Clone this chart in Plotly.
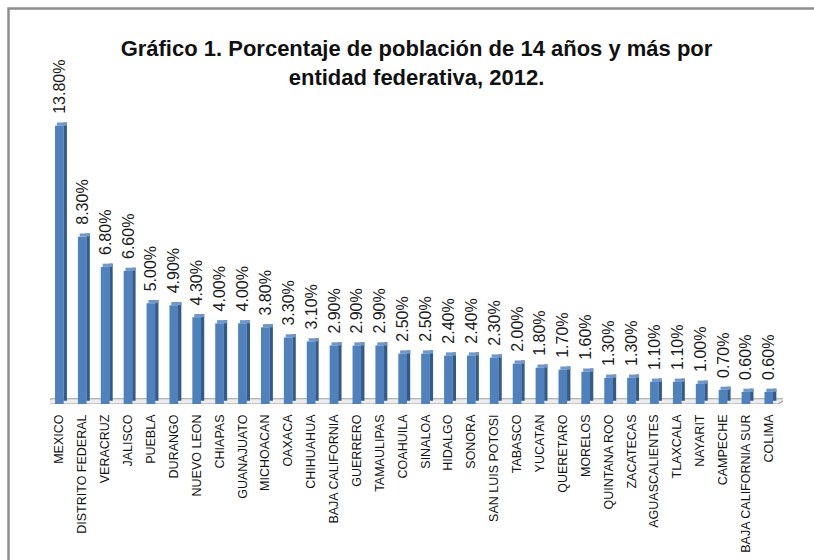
import plotly.graph_objects as go

# Entidades federativas y porcentaje de población de 14 años y más (2012)
estados = [
    "MEXICO", "DISTRITO FEDERAL", "VERACRUZ", "JALISCO", "PUEBLA", "DURANGO",
    "NUEVO LEON", "CHIAPAS", "GUANAJUATO", "MICHOACAN", "OAXACA", "CHIHUAHUA",
    "BAJA CALIFORNIA", "GUERRERO", "TAMAULIPAS", "COAHUILA", "SINALOA",
    "HIDALGO", "SONORA", "SAN LUIS POTOSI", "TABASCO", "YUCATAN", "QUERETARO",
    "MORELOS", "QUINTANA ROO", "ZACATECAS", "AGUASCALIENTES", "TLAXCALA",
    "NAYARIT", "CAMPECHE", "BAJA CALIFORNIA SUR", "COLIMA",
]
porcentajes = [
    13.8, 8.3, 6.8, 6.6, 5.0, 4.9, 4.3, 4.0, 4.0, 3.8, 3.3, 3.1, 2.9, 2.9, 2.9,
    2.5, 2.5, 2.4, 2.4, 2.3, 2.0, 1.8, 1.7, 1.6, 1.3, 1.3, 1.1, 1.1, 1.0, 0.7,
    0.6, 0.6,
]
titulo = "<b>Gráfico 1. Porcentaje de población de 14 años y más por<br>entidad federativa, 2012.</b>"

pos = list(range(len(estados)))
etiquetas = ["\u00a0\u00a0" + f"{v:.2f}%" for v in porcentajes]

FRONT = "#4F81BD"
SIDE = "#345A88"
TOP = "#6F97CB"
DEPTH = 0.16  # profundidad aparente del efecto 3D (unidades de eje y)

fig = go.Figure()

# cara lateral (sombra) de cada barra
fig.add_trace(go.Bar(
    x=pos, y=porcentajes, base=[DEPTH] * len(pos),
    width=0.15, offset=0.18, marker=dict(color=SIDE, line=dict(width=0)),
    hoverinfo="skip", showlegend=False,
))
# cara superior
fig.add_trace(go.Bar(
    x=pos, y=[DEPTH] * len(pos), base=porcentajes,
    width=0.44, offset=-0.11, marker=dict(color=TOP, line=dict(width=0)),
    hoverinfo="skip", showlegend=False,
))
# cara frontal con etiqueta de valor
fig.add_trace(go.Bar(
    x=pos, y=porcentajes,
    width=0.38, offset=-0.19,
    marker=dict(color=FRONT, line=dict(width=0)),
    text=etiquetas, textposition="outside", textangle=-90,
    textfont=dict(family="Liberation Sans, Arial, sans-serif", size=16, color="#1a1a1a"),
    constraintext="none", cliponaxis=False, showlegend=False,
))

shapes = [
    # piso del gráfico
    dict(type="path", xref="x", yref="y",
         path="M -0.63 0 L 31.4 0 L 31.78 0.26 L -0.36 0.26 Z",
         fillcolor="#EDEDED", line=dict(color="#A0A0A0", width=1.2), layer="below"),
    # marco exterior
    dict(type="rect", xref="paper", yref="paper",
         x0=-0.0566, x1=1.4, y0=-0.9, y1=1.345,
         line=dict(color="#8E8E8E", width=2.5), fillcolor="rgba(0,0,0,0)"),
]

fig.update_layout(
    width=814, height=560,
    margin=dict(l=50, r=31, t=110, b=156, autoexpand=False),
    paper_bgcolor="white", plot_bgcolor="white",
    barmode="overlay",
    title=dict(
        text=titulo, x=0.5, xanchor="center", xref="paper",
        y=0.90, yanchor="top", yref="container", automargin=False,
        font=dict(family="Liberation Sans, Arial, sans-serif", size=22, color="#111111"),
    ),
    shapes=shapes,
    xaxis=dict(
        range=[-0.41, 31.62], tickmode="array", tickvals=pos, ticktext=estados,
        tickangle=-90, showgrid=False, zeroline=False, showline=False, ticks="",
        ticklabelstandoff=7, automargin=False,
        tickfont=dict(family="Liberation Sans Narrow, Arial Narrow, sans-serif", size=12.5, color="#111111"),
    ),
    yaxis=dict(
        range=[0, 14.58], visible=False, showgrid=False, zeroline=False,
        automargin=False,
    ),
)

fig.write_html("out.html")
